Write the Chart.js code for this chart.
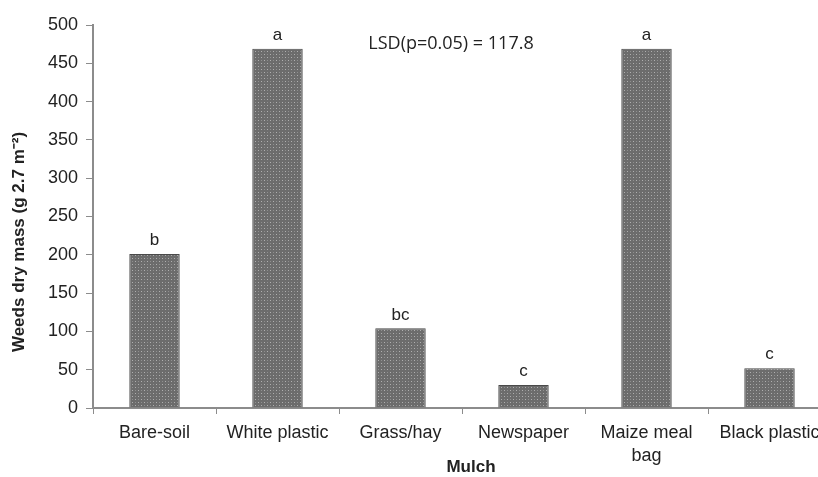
<!DOCTYPE html>
<html>
<head>
<meta charset="utf-8">
<script src="https://cdn.jsdelivr.net/npm/chart.js@4.4.0/dist/chart.umd.min.js"></script>
<style>
  html, body { margin: 0; padding: 0; background: #fff; overflow: hidden; }
  #wrap { width: 836px; height: 477px; }
</style>
</head>
<body>
<div id="wrap"><canvas id="weedChart" width="836" height="477"></canvas></div>
<script>
// Weeds dry mass by mulch type
const mulchTypes = ['Bare-soil', 'White plastic', 'Grass/hay', 'Newspaper', ['Maize meal', 'bag'], 'Black plastic'];
const dryMass = [201, 469, 104, 30, 469, 52];
const lsdLetters = ['b', 'a', 'bc', 'c', 'a', 'c'];
const lsdNote = 'LSD(p=0.05) = 117.8';
const yTitle = 'Weeds dry mass (g 2.7 m\u207B\u00B2)';
const xTitle = 'Mulch';

const sans = '"Liberation Sans", Arial, sans-serif';

// dotted grey fill like the original bars
function makePattern() {
    const p = document.createElement('canvas');
    p.width = 6;
    p.height = 6;
    const c = p.getContext('2d');
    c.fillStyle = '#6c6c6c';
    c.fillRect(0, 0, 6, 6);
    c.fillStyle = '#b0b0b0';
    c.fillRect(0, 0, 1, 1);
    c.fillRect(3, 3, 1, 1);
    c.fillStyle = '#8e8e8e';
    c.fillRect(3, 0, 1, 1);
    c.fillRect(0, 3, 1, 1);
    return c.createPattern(p, 'repeat');
}

// letters over bars, LSD note and axis titles
const annotations = {
    id: 'annotations',
    afterDatasetsDraw(chart) {
        const ctx = chart.ctx;
        const meta = chart.getDatasetMeta(0);
        ctx.save();
        ctx.fillStyle = '#222';
        ctx.font = '17px ' + sans;
        ctx.textAlign = 'center';
        ctx.textBaseline = 'bottom';
        meta.data.forEach((bar, i) => {
            ctx.fillText(lsdLetters[i], bar.x, bar.y - 5);
        });
        ctx.font = '18px "Open Sans", sans-serif';
        ctx.textBaseline = 'middle';
        ctx.fillText(lsdNote, 451, 44);

        ctx.font = 'bold 17px ' + sans;
        ctx.fillText(xTitle, 471, 467);

        ctx.translate(19, 242);
        ctx.rotate(-Math.PI / 2);
        ctx.fillText(yTitle, 0, 0);
        ctx.restore();
    }
};

const ctx = document.getElementById('weedChart').getContext('2d');
new Chart(ctx, {
    type: 'bar',
    data: {
        labels: mulchTypes,
        datasets: [{
            data: dryMass,
            backgroundColor: makePattern(),
            borderColor: '#4a4a4a',
            borderWidth: 1,
            barPercentage: 0.41,
            categoryPercentage: 1
        }]
    },
    options: {
        responsive: false,
        animation: false,
        layout: { padding: { top: 25, right: 5 } },
        plugins: {
            legend: { display: false },
            tooltip: { enabled: false }
        },
        scales: {
            x: {
                afterFit(scale) { scale.height = 69; },
                grid: {
                    display: true,
                    drawOnChartArea: false,
                    offset: true,
                    tickLength: 6,
                    color: '#8c8c8c'
                },
                border: { color: '#8c8c8c', width: 2 },
                ticks: {
                    color: '#222',
                    font: { family: sans, size: 18, lineHeight: 1.25 },
                    maxRotation: 0,
                    autoSkip: false,
                    padding: 8
                }
            },
            y: {
                min: 0,
                max: 500,
                afterFit(scale) { scale.width = 93; },
                grid: {
                    display: true,
                    drawOnChartArea: false,
                    tickLength: 7,
                    color: '#8c8c8c'
                },
                border: { color: '#8c8c8c', width: 2 },
                ticks: {
                    stepSize: 50,
                    color: '#222',
                    font: { family: sans, size: 18 },
                    padding: 8
                }
            }
        }
    },
    plugins: [annotations]
});
</script>
</body>
</html>
